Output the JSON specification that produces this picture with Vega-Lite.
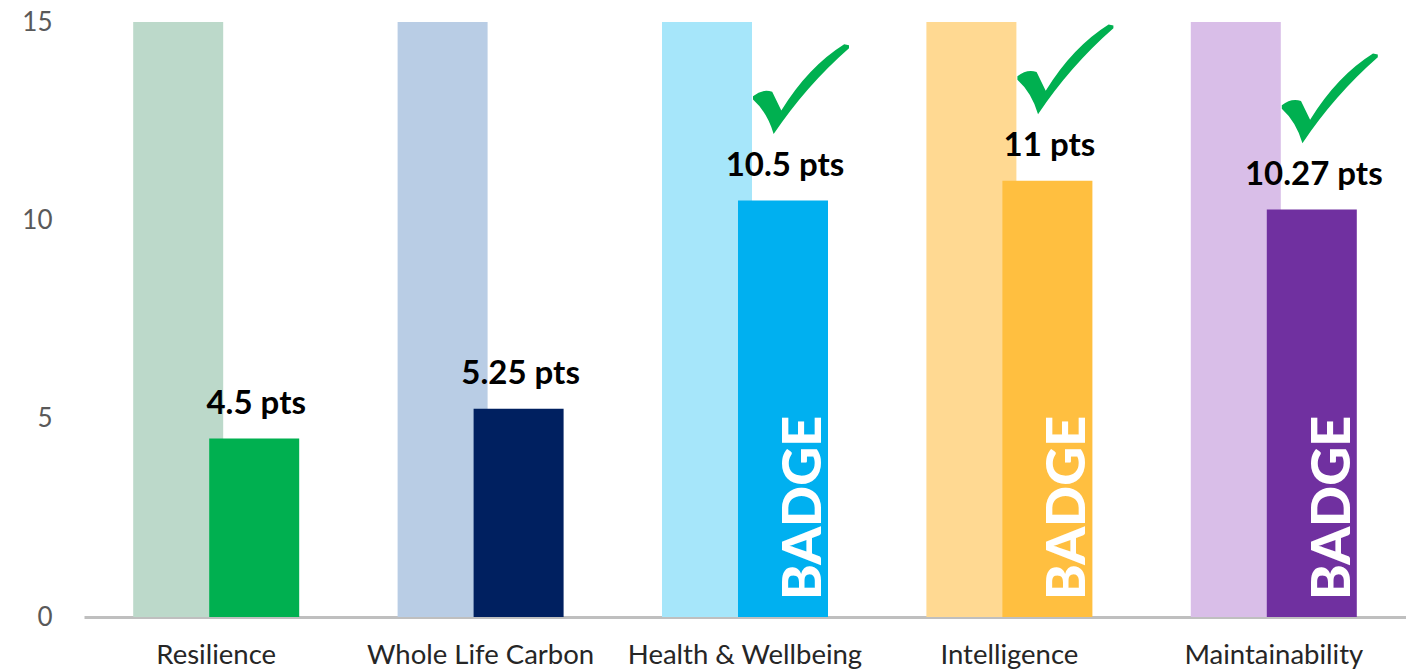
{
  "$schema": "https://vega.github.io/schema/vega-lite/v6.json",
  "width": 1322,
  "height": 595,
  "autosize": {"type": "none"},
  "padding": {"left": 84, "top": 22, "right": 0, "bottom": 53},
  "background": "white",
  "config": {"view": {"stroke": null}, "font": "Lato"},
  "data": {
    "values": [
      {"category": "Resilience", "value": 4.5, "label": "4.5 pts", "badge": false},
      {"category": "Whole Life Carbon", "value": 5.25, "label": "5.25 pts", "badge": false},
      {"category": "Health & Wellbeing", "value": 10.5, "label": "10.5 pts", "badge": true},
      {"category": "Intelligence", "value": 11, "label": "11 pts", "badge": true},
      {"category": "Maintainability", "value": 10.27, "label": "10.27 pts", "badge": true}
    ]
  },
  "encoding": {
    "x": {
      "field": "category",
      "type": "nominal",
      "sort": null,
      "scale": {"paddingInner": 0, "paddingOuter": 0},
      "axis": {
        "title": null,
        "labelAngle": 0,
        "labelFontSize": 27.5,
        "labelColor": "#262626",
        "labelPadding": 24,
        "labelLimit": 0,
        "ticks": false,
        "domainColor": "#BFBFBF",
        "domainWidth": 3,
        "grid": false
      }
    }
  },
  "layer": [
    {
      "mark": {"type": "bar", "width": 90, "xOffset": -38},
      "encoding": {
        "y": {
          "datum": 15,
          "type": "quantitative",
          "scale": {"domain": [0, 15], "nice": false},
          "axis": {
            "title": null,
            "values": [0, 5, 10, 15],
            "labelFontSize": 26,
            "labelColor": "#595959",
            "labelPadding": 32,
            "ticks": false,
            "domain": false,
            "gridColor": "#EBEBEB",
            "gridWidth": 2
          }
        },
        "color": {
          "field": "category",
          "type": "nominal",
          "scale": {
            "domain": ["Resilience", "Whole Life Carbon", "Health & Wellbeing", "Intelligence", "Maintainability"],
            "range": ["#BCD9CA", "#B9CDE5", "#A6E6FA", "#FFD992", "#D9BEE8"]
          },
          "legend": null
        }
      }
    },
    {
      "mark": {"type": "bar", "width": 90, "xOffset": 38},
      "encoding": {
        "y": {"field": "value", "type": "quantitative"},
        "fill": {
          "field": "category",
          "type": "nominal",
          "scale": {
            "domain": ["Resilience", "Whole Life Carbon", "Health & Wellbeing", "Intelligence", "Maintainability"],
            "range": ["#00B050", "#002060", "#00B0F0", "#FFBF40", "#7030A0"]
          },
          "legend": null
        }
      }
    },
    {
      "mark": {"type": "text", "xOffset": 40, "dy": -25, "baseline": "alphabetic", "align": "center", "fontSize": 33, "fontWeight": "bold", "color": "#000000"},
      "encoding": {
        "y": {"field": "value", "type": "quantitative"},
        "text": {"field": "label"}
      }
    },
    {
      "transform": [{"filter": "datum.badge"}],
      "mark": {"type": "text", "xOffset": 38, "angle": 270, "align": "left", "baseline": "alphabetic", "dx": 17, "dy": 38, "fontSize": 54, "fontWeight": 900, "color": "#FFFFFF"},
      "encoding": {
        "y": {"datum": 0, "type": "quantitative"},
        "text": {"value": "BADGE"}
      }
    },
    {
      "transform": [{"filter": "datum.badge"}],
      "mark": {
        "type": "point",
        "shape": "M-1,0.16 Q-0.8,0 -0.6,0.07 L-0.41,0.46 Q0.15,-0.45 0.9,-0.92 L1,-0.9 L1,-0.84 Q0.1,-0.05 -0.57,0.95 Q-0.7,0.5 -1,0.23 Z",
        "filled": true,
        "opacity": 1,
        "color": "#00B050",
        "strokeWidth": 0,
        "size": 9216,
        "xOffset": 56,
        "yOffset": -112
      },
      "encoding": {
        "y": {"field": "value", "type": "quantitative"}
      }
    }
  ],
  "resolve": {"scale": {"color": "independent", "fill": "independent"}}
}
